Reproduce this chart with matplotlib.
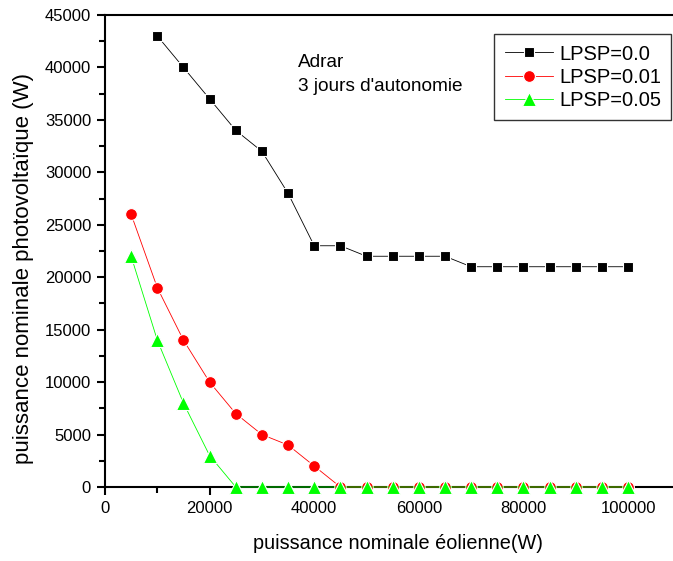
import matplotlib.pyplot as plt
from matplotlib.ticker import MultipleLocator

plt.rcParams['font.family'] = ['Liberation Sans', 'DejaVu Sans']

# Données
x_lpsp0 = [10000, 15000, 20000, 25000, 30000, 35000, 40000, 45000, 50000, 55000,
           60000, 65000, 70000, 75000, 80000, 85000, 90000, 95000, 100000]
y_lpsp0 = [43000, 40000, 37000, 34000, 32000, 28000, 23000, 23000, 22000, 22000,
           22000, 22000, 21000, 21000, 21000, 21000, 21000, 21000, 21000]

x_lpsp001 = [5000, 10000, 15000, 20000, 25000, 30000, 35000, 40000, 45000, 50000,
             55000, 60000, 65000, 70000, 75000, 80000, 85000, 90000, 95000, 100000]
y_lpsp001 = [26000, 19000, 14000, 10000, 7000, 5000, 4000, 2000, 0, 0,
             0, 0, 0, 0, 0, 0, 0, 0, 0, 0]

x_lpsp005 = [5000, 10000, 15000, 20000, 25000, 30000, 35000, 40000, 45000, 50000,
             55000, 60000, 65000, 70000, 75000, 80000, 85000, 90000, 95000, 100000]
y_lpsp005 = [22000, 14000, 8000, 3000, 0, 0, 0, 0, 0, 0,
             0, 0, 0, 0, 0, 0, 0, 0, 0, 0]


def create_plot():
    fig = plt.figure(figsize=(6.73, 5.61), dpi=100)
    ax = fig.add_axes([105 / 673, 1 - 487 / 561, 1 - 105 / 673, (487 - 15) / 561])

    ax.plot(x_lpsp0, y_lpsp0, color='black', lw=0.6, marker='s', ms=7.5,
            mec='white', mew=0.8, label='LPSP=0.0', clip_on=False, zorder=3)
    ax.plot(x_lpsp001, y_lpsp001, color='red', lw=0.6, marker='o', ms=8.5,
            mec='white', mew=0.8, label='LPSP=0.01', clip_on=False, zorder=3)
    ax.plot(x_lpsp005, y_lpsp005, color='#00ff00', lw=0.6, marker='^', ms=10,
            mec='white', mew=0.8, label='LPSP=0.05', clip_on=False, zorder=4)

    ax.set_xlim(0, 108600)
    ax.set_ylim(0, 45000)
    ax.xaxis.set_major_locator(MultipleLocator(20000))
    ax.xaxis.set_minor_locator(MultipleLocator(10000))
    ax.yaxis.set_major_locator(MultipleLocator(5000))
    ax.yaxis.set_minor_locator(MultipleLocator(2500))

    ax.spines['right'].set_visible(False)
    for s in ('left', 'bottom', 'top'):
        ax.spines[s].set_linewidth(1.5)
    ax.tick_params(which='major', direction='out', length=6, width=1.5,
                   labelsize=12, pad=4)
    ax.tick_params(which='minor', direction='out', length=4, width=1.5)
    ax.tick_params(top=False, which='both')

    ax.set_xlabel("puissance nominale éolienne(W)", fontsize=14.3)
    ax.set_ylabel("puissance nominale photovoltaïque (W)", fontsize=16)
    ax.xaxis.set_label_coords(0.516, -0.1)
    ax.yaxis.set_label_coords(-0.125, 0.462)

    ax.text(0.339, 0.917, "Adrar\n3 jours d'autonomie", transform=ax.transAxes,
            fontsize=13.7, va='top', ha='left', linespacing=1.5)

    leg = ax.legend(loc='upper right', bbox_to_anchor=(1.0, 0.963),
                    fontsize=14.5, frameon=True, fancybox=False, edgecolor='black',
                    handlelength=2.4, borderpad=0.5, labelspacing=0.2,
                    handletextpad=0.3, borderaxespad=0.1)
    leg.get_frame().set_linewidth(1.0)

    fig.savefig("out.png", dpi=100)


if __name__ == "__main__":
    create_plot()
